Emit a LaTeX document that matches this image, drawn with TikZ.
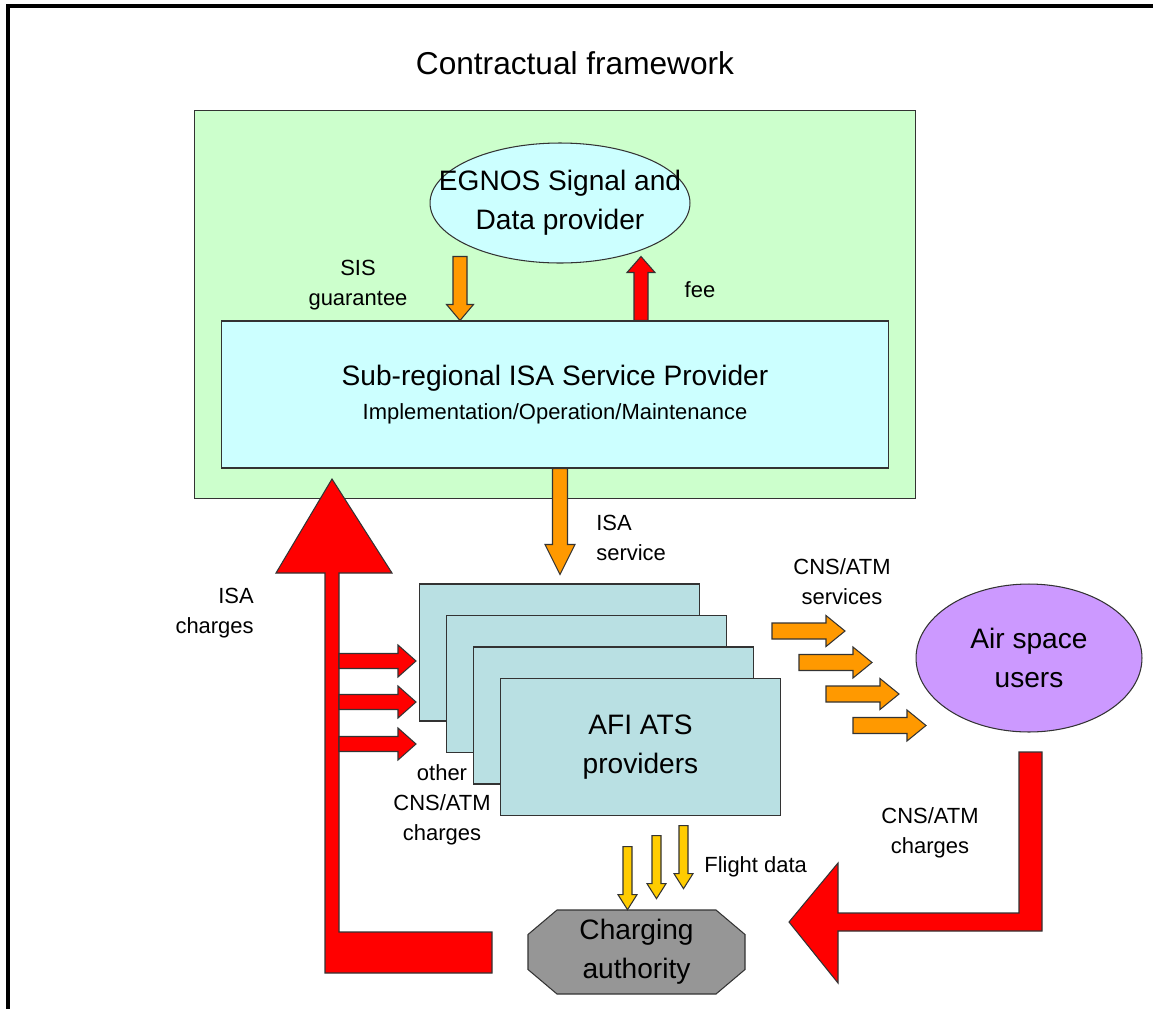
\documentclass[tikz,border=0pt]{standalone}
\usepackage{fontspec}
\setmainfont{Liberation Sans}
\usetikzlibrary{calc,shapes.geometric}

\definecolor{framegreen}{HTML}{CCFFCC}
\definecolor{lightcyan}{HTML}{CCFFFF}
\definecolor{atsblue}{HTML}{B9E0E3}
\definecolor{userpurple}{HTML}{CC99FF}
\definecolor{arrowred}{HTML}{FF0000}
\definecolor{arroworange}{HTML}{FF9900}
\definecolor{arrowyellow}{HTML}{FFCC00}
\definecolor{chargegray}{HTML}{969696}

% block arrow: [style]{from}{to}{half shaft}{half head}{head length}
\newcommand{\blockarrow}[6][]{%
  \path (#2) coordinate (ba-s) (#3) coordinate (ba-e);
  \path ($(ba-e)!#6!(ba-s)$) coordinate (ba-b);
  \filldraw[#1] ($(ba-s)!#4!90:(ba-e)$) -- ($(ba-b)!#4!-90:(ba-s)$)
    -- ($(ba-b)!#5!-90:(ba-s)$) -- (ba-e) -- ($(ba-b)!#5!90:(ba-s)$)
    -- ($(ba-b)!#4!90:(ba-s)$) -- ($(ba-s)!#4!-90:(ba-e)$) -- cycle;
}

\begin{document}
\begin{tikzpicture}[
  x=0.02cm, y=-0.02cm,
  box/.style={draw=black!80,line width=0.6pt,inner sep=1pt,align=center},
  bigtext/.style={font=\fontsize{16}{22}\selectfont},
  labeltext/.style={font=\fontsize{12.5}{17}\selectfont,align=center,inner sep=0pt},
  redarr/.style={draw=black!80,line width=0.6pt,fill=arrowred},
  orangearr/.style={draw=black!80,line width=0.6pt,fill=arroworange},
  yellowarr/.style={draw=black!80,line width=0.6pt,fill=arrowyellow}
]
\useasboundingbox (0,0) rectangle (1153,1008);
\clip (0,0) rectangle (1153,1008);
\draw[line width=2.2pt] (8,6) rectangle (1180,1030);

\node[font=\fontsize{18}{22}\selectfont] (title) at (575,63) {Contractual framework};

\node[box,fill=framegreen,minimum width=14.44cm,minimum height=7.78cm] (contract) at (555,304.5) {};
\node[box,fill=lightcyan,minimum width=13.36cm,minimum height=2.94cm,bigtext] (srsp) at (555,394.5)
  {Sub-regional ISA Service Provider\\[-3pt]{\fontsize{12.5}{15}\selectfont Implementation/Operation/Maintenance}};
\node[box,ellipse,fill=lightcyan,minimum width=5.2cm,minimum height=2.4cm,
  label={[bigtext,align=center]center:EGNOS Signal and\\Data provider}] (egnos) at (560,203) {};

\blockarrow[orangearr]{$(srsp.north)+(-95,-64)$}{$(srsp.north)+(-95,0)$}{0.14cm}{0.27cm}{0.32cm}
\blockarrow[redarr]{$(srsp.north)+(86,0)$}{$(srsp.north)+(86,-64)$}{0.14cm}{0.28cm}{0.32cm}
\node[labeltext] (sislbl) at (358,285) {SIS\\guarantee};
\node[labeltext] (feelbl) at (700,290) {fee};

% providers stack
\foreach \i in {0,...,3}
  \node[box,fill=atsblue,minimum width=5.6cm,minimum height=2.74cm] (ats\i) at ({559.5+27*\i},{652.5+31.5*\i}) {};
\node[bigtext,align=center] (atslbl) at (ats3) {AFI ATS\\providers};

\blockarrow[orangearr]{$(srsp.south)+(5,0)$}{$(ats0.north)+(0.5,-9)$}{0.15cm}{0.3cm}{0.6cm}
\node[labeltext,align=left,anchor=west] (isasvc) at (596,538) {ISA\\service};

% ISA charges
\filldraw[redarr] (492,932) -- (339,932) -- (339,573) -- (392,573) -- (332,479) -- (276,573)
  -- (325,573) -- (325,973) -- (492,973) -- cycle;
\foreach \y in {661,702,744}{
  \blockarrow[redarr]{339,\y}{416,\y}{0.15cm}{0.32cm}{0.36cm}
}
\node[labeltext,align=right,anchor=east] (isachg) at (254,613) {ISA\\charges};
\node[labeltext] (otherchg) at (442,805) {other\\CNS/ATM\\charges};

% users
\node[box,ellipse,fill=userpurple,minimum width=4.52cm,minimum height=2.96cm,
  label={[bigtext,align=center]center:Air space\\users}] (users) at (1029,658) {};
\foreach \i in {0,...,3}{
  \blockarrow[orangearr]{{772+27*\i},{631+31.5*\i}}{{845+27*\i},{631+31.5*\i}}{0.16cm}{0.31cm}{0.38cm}
}
\node[labeltext] (cnssvc) at (842,582) {CNS/ATM\\services};

\filldraw[redarr] (1019,752) -- (1042,752) -- (1042,931) -- (838,931) -- (838,983) -- (789,922)
  -- (838,863) -- (838,913) -- (1019,913) -- cycle;
\node[labeltext] (cnschg) at (930,833) {CNS/ATM\\charges};

% charging authority
\coordinate (chargc) at (636.5,952);
\filldraw[box,fill=chargegray] ($(chargc)+(-79.5,-42)$) -- ($(chargc)+(79.5,-42)$) -- ($(chargc)+(108.5,-17.5)$)
  -- ($(chargc)+(108.5,17.5)$) -- ($(chargc)+(79.5,42)$) -- ($(chargc)+(-79.5,42)$)
  -- ($(chargc)+(-108.5,17.5)$) -- ($(chargc)+(-108.5,-17.5)$) -- cycle;
\node[bigtext,align=center,minimum width=4.34cm,minimum height=1.68cm] (charging) at (chargc) {Charging\\authority};
\foreach \dx/\dy in {-9/0,20/11,47/21}{
  \blockarrow[yellowarr]{$(charging.north)+(\dx,-63-\dy)$}{$(charging.north)+(\dx,-\dy)$}{0.09cm}{0.19cm}{0.3cm}
}
\node[labeltext,anchor=west] (flight) at (704,867) {Flight data};
\end{tikzpicture}
\end{document}
